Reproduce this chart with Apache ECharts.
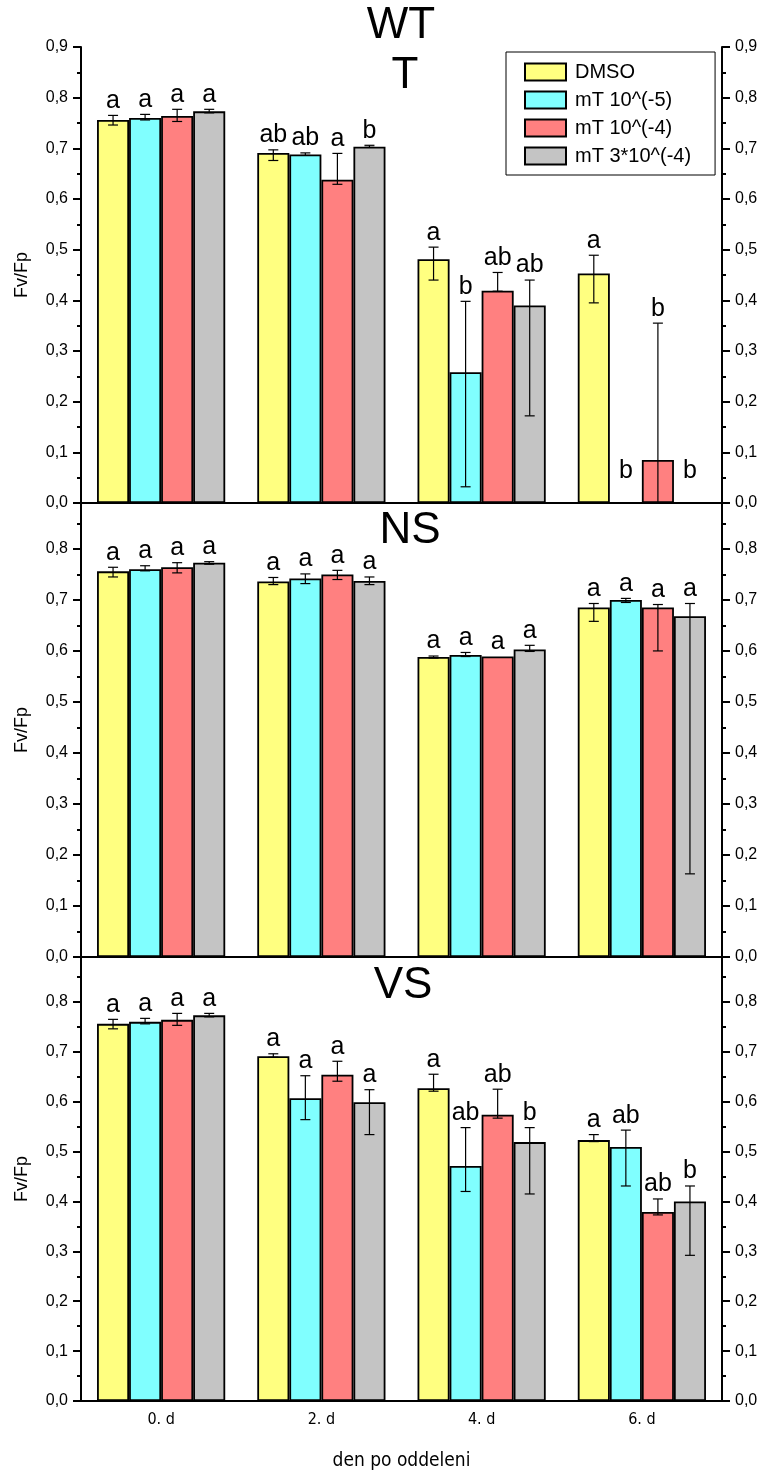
<!DOCTYPE html>
<html>
<head>
<meta charset="utf-8">
<script src="https://cdn.jsdelivr.net/npm/echarts@6/dist/echarts.min.js"></script>
<style>
  html, body { margin: 0; padding: 0; background: #fff; }
  #main { width: 761px; height: 1472px; }
</style>
</head>
<body>
<div id="main"></div>
<script>
const days = ['0. d', '2. d', '4. d', '6. d'];
const groups = ['DMSO', 'mT 10^(-5)', 'mT 10^(-4)', 'mT 3*10^(-4)'];
const yTickLabels = ['0,0', '0,1', '0,2', '0,3', '0,4', '0,5', '0,6', '0,7', '0,8', '0,9'];
const panelNames = ['T', 'NS', 'VS'];

// T  (rows = groups, cols = days); hi/lo = error bar ends as drawn
const tMean = [
	[0.756, 0.691, 0.481, 0.453],
	[0.760, 0.688, 0.258, 0],
	[0.764, 0.638, 0.419, 0.085],
	[0.773, 0.703, 0.390, 0]
];
const tHi = [
	[0.765, 0.697, 0.505, 0.489],
	[0.767, 0.691, 0.398, null],
	[0.777, 0.690, 0.455, 0.355],
	[0.777, 0.706, 0.440, null]
];
const tLo = [
	[0.746, 0.676, 0.440, 0.395],
	[0.756, 0.686, 0.032, null],
	[0.753, 0.629, 0.418, 0],
	[0.770, 0.702, 0.172, null]
];
const tLetters = [
	['a', 'ab', 'a', 'a'],
	['a', 'ab', 'b', 'b'],
	['a', 'a', 'ab', 'b'],
	['a', 'b', 'ab', 'b']
];

// NS
const nsMean = [
	[0.756, 0.736, 0.588, 0.685],
	[0.760, 0.742, 0.592, 0.700],
	[0.764, 0.750, 0.589, 0.685],
	[0.773, 0.737, 0.603, 0.668]
];
const nsHi = [
	[0.764, 0.744, 0.590, 0.693],
	[0.767, 0.751, 0.597, 0.703],
	[0.773, 0.758, null, 0.691],
	[0.775, 0.745, 0.611, 0.693]
];
const nsLo = [
	[0.745, 0.730, 0.586, 0.658],
	[0.757, 0.732, 0.589, 0.695],
	[0.753, 0.740, null, 0.600],
	[0.770, 0.730, 0.599, 0.163]
];
const nsLetters = [
	['a', 'a', 'a', 'a'],
	['a', 'a', 'a', 'a'],
	['a', 'a', 'a', 'a'],
	['a', 'a', 'a', 'a']
];

// VS
const vsMean = [
	[0.756, 0.691, 0.627, 0.523],
	[0.760, 0.607, 0.471, 0.509],
	[0.764, 0.654, 0.574, 0.379],
	[0.773, 0.599, 0.519, 0.400]
];
const vsHi = [
	[0.765, 0.696, 0.655, 0.534],
	[0.767, 0.652, 0.548, 0.543],
	[0.777, 0.681, 0.625, 0.405],
	[0.777, 0.624, 0.548, 0.431]
];
const vsLo = [
	[0.746, 0.689, 0.621, 0.520],
	[0.756, 0.564, 0.420, 0.431],
	[0.753, 0.641, 0.567, 0.373],
	[0.770, 0.534, 0.415, 0.292]
];
const vsLetters = [
	['a', 'a', 'a', 'a'],
	['a', 'a', 'ab', 'ab'],
	['a', 'a', 'ab', 'ab'],
	['a', 'a', 'b', 'b']
];

const colors = ['#ffff80', '#80ffff', '#ff8080', '#c4c4c4'];
const font = '"Liberation Sans", Arial, sans-serif';
const narrow = '"Liberation Sans Narrow", "DejaVu Sans Condensed", sans-serif';

const panels = [
	{ mean: tMean, hi: tHi, lo: tLo, letters: tLetters, top: 47, height: 456, max: 0.9, label: [405, 76] },
	{ mean: nsMean, hi: nsHi, lo: nsLo, letters: nsLetters, top: 503, height: 454, max: 0.89, label: [410, 531] },
	{ mean: vsMean, hi: vsHi, lo: vsLo, letters: vsLetters, top: 957, height: 453, max: 0.89, label: [403, 986] }
];

const tickLabel = v => {
	const i = Math.round(v * 10);
	return Math.abs(v * 10 - i) < 1e-6 ? yTickLabels[i] : '';
};

const axisLineStyle = { color: '#000', width: 2 };

const grid = [];
const xAxis = [];
const yAxis = [];
const series = [];

panels.forEach((P, p) => {
	grid.push({ left: 81, right: 39, top: P.top, height: P.height });

	xAxis.push({
		type: 'category',
		gridIndex: p,
		data: days,
		axisLine: { lineStyle: axisLineStyle },
		axisTick: { show: false },
		axisLabel: { show: p === 2, color: '#000', fontSize: 16, fontFamily: narrow, margin: 11 },
		name: p === 2 ? 'den po oddeleni' : '',
		nameLocation: 'middle',
		nameGap: 51,
		nameTextStyle: { color: '#000', fontSize: 19, fontFamily: narrow }
	});

	const yBase = {
		type: 'value',
		gridIndex: p,
		min: 0,
		max: P.max,
		interval: 0.1,
		axisLine: { show: true, lineStyle: axisLineStyle },
		axisTick: { show: true, inside: false, length: 8, lineStyle: { color: '#000', width: 2 } },
		minorTick: { show: true, splitNumber: 2, length: 4, lineStyle: { color: '#000', width: 2 } },
		splitLine: { show: false },
		axisLabel: { formatter: tickLabel, color: '#000', fontSize: 16, fontFamily: font, margin: 13 }
	};
	yAxis.push(Object.assign({}, yBase, {
		position: 'left',
		name: 'Fv/Fp',
		nameLocation: 'middle',
		nameGap: 50,
		nameTextStyle: { color: '#000', fontSize: 18, fontFamily: font }
	}));
	yAxis.push(Object.assign({}, yBase, { position: 'right' }));

	groups.forEach((g, s) => {
		series.push({
			type: 'bar',
			name: g,
			xAxisIndex: p,
			yAxisIndex: p * 2,
			data: P.mean[s],
			barGap: '0%',
			barCategoryGap: '20%',
			itemStyle: { color: colors[s], borderColor: '#000', borderWidth: 1.8 },
			emphasis: { disabled: true },
			z: 2
		});
	});

	const items = [];
	days.forEach((d, di) => groups.forEach((g, s) => items.push([di, P.mean[s][di], s])));

	series.push({
		type: 'custom',
		xAxisIndex: p,
		yAxisIndex: p * 2,
		data: items,
		encode: { x: 0, y: 1 },
		z: 5,
		silent: true,
		renderItem: (params, api) => {
			const di = api.value(0);
			const s = api.value(2);
			const band = api.size([1, 0])[0];
			const bw = band * 0.8 / 4;
			const cx = api.coord([di, 0])[0] + (s - 1.5) * bw;
			const hi = P.hi[s][di];
			const lo = P.lo[s][di];
			const children = [];
			const st = { stroke: '#000', lineWidth: 1.2 };
			if (hi != null) {
				const yh = api.coord([di, hi])[1];
				const yl = api.coord([di, lo])[1];
				children.push({ type: 'line', shape: { x1: cx, y1: yh, x2: cx, y2: yl }, style: st });
				children.push({ type: 'line', shape: { x1: cx - 5, y1: yh, x2: cx + 5, y2: yh }, style: st });
				if (lo > 0) {
					children.push({ type: 'line', shape: { x1: cx - 5, y1: yl, x2: cx + 5, y2: yl }, style: st });
				}
			}
			const anchor = Math.max(hi != null ? hi : P.mean[s][di], 0.035);
			const ya = api.coord([di, anchor])[1];
			children.push({
				type: 'text',
				style: {
					text: P.letters[s][di],
					x: cx,
					y: ya - 2,
					align: 'center',
					verticalAlign: 'bottom',
					fontSize: 25,
					fontFamily: font,
					fill: '#000'
				}
			});
			return { type: 'group', children: children };
		}
	});
});

// top border of the first panel
xAxis.push({
	type: 'category',
	gridIndex: 0,
	position: 'top',
	data: days,
	axisLine: { lineStyle: axisLineStyle },
	axisTick: { show: false },
	axisLabel: { show: false }
});

const graphic = [
	{ type: 'text', style: { text: 'WT', x: 401, y: 26, align: 'center', verticalAlign: 'middle', fontSize: 44, fontFamily: font, fill: '#000' } }
];
panels.forEach((P, p) => {
	graphic.push({
		type: 'text',
		style: { text: panelNames[p], x: P.label[0], y: P.label[1], align: 'center', verticalAlign: 'middle', fontSize: 44, fontFamily: font, fill: '#000' },
		z: 10
	});
});

const chart = echarts.init(document.getElementById('main'), null, { renderer: 'canvas' });
chart.setOption({
	animation: false,
	backgroundColor: '#fff',
	grid: grid,
	xAxis: xAxis,
	yAxis: yAxis,
	legend: {
		data: groups,
		orient: 'vertical',
		left: 506,
		top: 52,
		padding: [10, 24, 9, 18],
		itemWidth: 41,
		itemHeight: 17,
		itemGap: 8,
		icon: 'rect',
		borderColor: '#000',
		borderWidth: 1,
		backgroundColor: '#fff',
		selectedMode: false,
		textStyle: { color: '#000', fontSize: 20, lineHeight: 17, fontFamily: font, padding: [0, 0, 0, 4] }
	},
	graphic: graphic,
	series: series
});
</script>
</body>
</html>
